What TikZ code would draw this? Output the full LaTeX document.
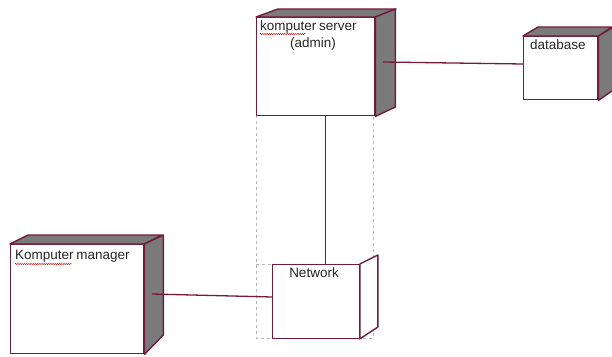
\documentclass[tikz,border=0pt]{standalone}
\usepackage{fontspec}
\setmainfont{Liberation Sans}
\usetikzlibrary{decorations.pathmorphing}
\definecolor{edge}{HTML}{741A3C}
\definecolor{shade}{HTML}{7A7A7A}
\begin{document}
\begin{tikzpicture}[x=1pt,y=-1pt,
  front/.style={draw=edge,line width=1.4pt,fill=white,inner sep=0pt,anchor=north west},
  face/.style={draw=edge,line width=1.4pt,fill=shade,line join=round},
  conn/.style={draw=edge,line width=1.3pt},
  thinconn/.style={draw=edge,line width=0.8pt},
  hidden/.style={draw=gray!55,dashed,line width=0.8pt},
  lbl/.style={font=\fontsize{13.5}{17}\selectfont,inner sep=0pt,text=black!85},
  squig/.style={draw=red!80!black,line width=0.4pt,decorate,decoration={snake,amplitude=0.7pt,segment length=2.2pt}}]
\useasboundingbox (0,0) rectangle (612,356);
\fill[white] (0,0) rectangle (612,356);
% dashed frame
\draw[hidden] (256,115) rectangle (373,338);
% server
\node[front,minimum width=118pt,minimum height=98pt] (srv) at (256,17) {};
\draw[face] (srv.north west) -- ++(22,-8) -- ++(118,0) -- (srv.north east) -- cycle;
\draw[face] (srv.north east) -- ++(20,-8) -- ++(0,98) -- (srv.south east) -- cycle;
\node[lbl,align=left,anchor=north west] (srvtxt) at (260,21) {komputer\hspace{-1pt} server\\\hspace*{30pt}(admin)};
\draw[squig] (260,34) -- (306,34);
% database
\node[front,minimum width=74pt,minimum height=63pt] (db) at (523,36) {};
\draw[face] (db.north west) -- ++(15,-9) -- ++(74,0) -- (db.north east) -- cycle;
\draw[face] (db.north east) -- ++(15,-9) -- ++(0,63) -- (db.south east) -- cycle;
\node[lbl,anchor=north west] (dbtxt) at (530,40) {database};
% manager
\node[front,minimum width=133pt,minimum height=109pt] (mgr) at (10,244) {};
\draw[face] (mgr.north west) -- ++(18,-9) -- ++(134,0) -- (mgr.north east) -- cycle;
\draw[face] (mgr.north east) -- ++(19,-9) -- ++(0,100) -- (mgr.south east) -- cycle;
\node[lbl,anchor=north west] (mgrtxt) at (15,250) {Komputer\hspace{-1pt} manager};
\draw[squig] (15,264) -- (72,264);
% network
\draw[hidden] (256,264) -- (272,264);
\node[draw=edge,line width=0.9pt,fill=white,inner sep=0pt,anchor=north west,minimum width=87pt,minimum height=74pt] (net) at (272,264) {};
\draw[draw=edge,line width=1.4pt,fill=white,line join=round] (net.north east) -- ++(18,-9) -- ++(0,72) -- (net.south east) -- cycle;
\node[lbl,anchor=north] (nettxt) at (314,268) {Network};
% connectors
\coordinate (srvside) at (383,62);
\coordinate (mgrside) at (152,294);
\draw[conn] (srvside) -- (db.west |- 0,64);
\draw[thinconn] (srv.south -| 325,0) -- (net.north -| 325,0);
\draw[conn] (mgrside) -- (net.west |- 0,297);
\end{tikzpicture}
\end{document}
